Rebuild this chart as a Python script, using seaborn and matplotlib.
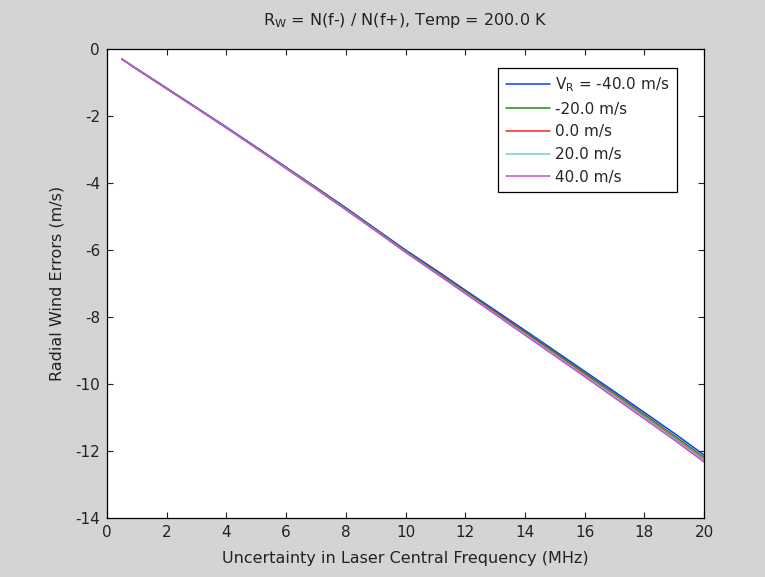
import pandas as pd
import seaborn as sns
import matplotlib.pyplot as plt

# Laser frequency uncertainty (MHz)
freq = [0.5, 1, 2, 3, 4, 5, 6, 7, 8, 9, 10, 11, 12, 13, 14, 15, 16, 17, 18, 19, 20]

# Radial wind errors (m/s), one list per radial velocity
err_m40 = [-0.30, -0.59, -1.17, -1.75, -2.33, -2.93, -3.53, -4.13, -4.74, -5.37, -6.00,
           -6.59, -7.20, -7.80, -8.40, -9.01, -9.62, -10.23, -10.85, -11.47, -12.12]
err_m20 = [-0.30, -0.60, -1.18, -1.76, -2.34, -2.94, -3.54, -4.14, -4.76, -5.39, -6.02,
           -6.62, -7.23, -7.84, -8.44, -9.05, -9.67, -10.28, -10.91, -11.54, -12.19]
err_0 = [-0.30, -0.60, -1.18, -1.76, -2.35, -2.95, -3.55, -4.16, -4.78, -5.41, -6.05,
         -6.65, -7.26, -7.87, -8.48, -9.10, -9.72, -10.34, -10.97, -11.60, -12.26]
err_p20 = [-0.30, -0.60, -1.19, -1.77, -2.35, -2.96, -3.56, -4.17, -4.79, -5.42, -6.06,
           -6.67, -7.28, -7.90, -8.51, -9.13, -9.75, -10.37, -11.00, -11.63, -12.29]
err_p40 = [-0.31, -0.61, -1.19, -1.77, -2.36, -2.96, -3.57, -4.18, -4.80, -5.43, -6.07,
           -6.68, -7.30, -7.92, -8.54, -9.16, -9.78, -10.41, -11.04, -11.67, -12.33]

labels = [r'V$_\mathrm{R}$ = -40.0 m/s', '-20.0 m/s', '0.0 m/s', '20.0 m/s', '40.0 m/s']
series = [err_m40, err_m20, err_0, err_p20, err_p40]
colors = ['#0a3cff', '#1e8c1e', '#ff2020', '#6fd0d0', '#c050d0']

# long-form table for seaborn
rows = []
for lab, vals in zip(labels, series):
    for f, v in zip(freq, vals):
        rows.append({'freq': f, 'err': v, 'vr': lab})
df = pd.DataFrame(rows)

sns.set_style('ticks')
plt.rcParams['font.family'] = ['DejaVu Sans']
plt.rcParams['mathtext.fontset'] = 'dejavusans'
plt.rcParams['axes.unicode_minus'] = False

fig = plt.figure(figsize=(7.65, 5.77), dpi=100, facecolor='#d4d4d4')
ax = fig.add_axes([0.1399, 0.1023, 0.7804, 0.8128])
ax.set_facecolor('white')

sns.lineplot(data=df, x='freq', y='err', hue='vr', hue_order=labels,
             palette=colors, linewidth=1.1, legend=False, ax=ax)

ax.set_xlim(0, 20)
ax.set_ylim(-14, 0)
ax.set_xticks(range(0, 21, 2))
ax.set_yticks(range(-14, 1, 2))
ax.tick_params(direction='in', length=4, width=0.8, top=True, right=True,
               labelsize=11, colors='#222222', pad=5)
for s in ax.spines.values():
    s.set_visible(True)
    s.set_color('black')
    s.set_linewidth(0.9)

ax.set_xlabel('Uncertainty in Laser Central Frequency (MHz)', fontsize=11.5,
              labelpad=8, color='#222222')
ax.set_ylabel('Radial Wind Errors (m/s)', fontsize=11.5, labelpad=8, color='#222222')
ax.set_title(r'R$_\mathrm{W}$ = N(f-) / N(f+), Temp = 200.0 K', fontsize=11.5,
             pad=17, color='#222222')

handles = ax.get_lines()[:5]
leg = ax.legend(handles, labels, loc='upper left', bbox_to_anchor=(0.655, 0.96),
                borderaxespad=0, fontsize=11, handlelength=2.9, handletextpad=0.3,
                labelspacing=0.5, fancybox=False, framealpha=1, edgecolor='black',
                borderpad=0.5)
leg.get_frame().set_linewidth(0.9)

plt.savefig('out.png', dpi=100, facecolor=fig.get_facecolor())
